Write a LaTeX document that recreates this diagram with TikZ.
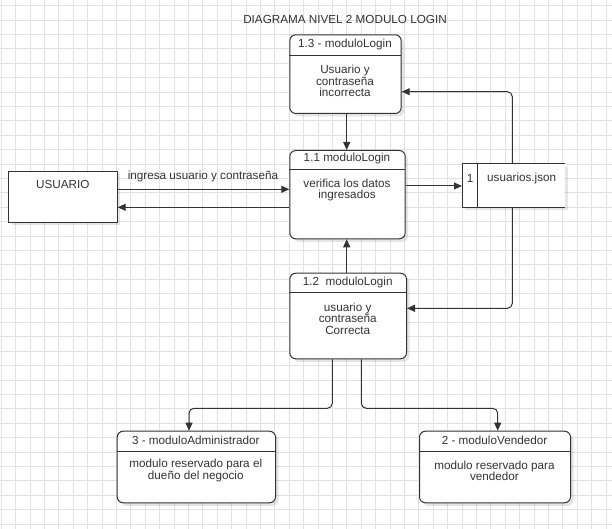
\documentclass[tikz,border=0pt]{standalone}
\usepackage{fontspec}
\setmainfont{Liberation Sans}
\usetikzlibrary{arrows.meta,shadows,calc}
\definecolor{ln}{HTML}{333333}
\definecolor{gridc}{HTML}{E2E2E2}
\begin{document}
\begin{tikzpicture}[x=1pt,y=-1pt,
  font=\fontsize{11.7}{11.7}\selectfont, text=ln,
  shad/.style={drop shadow={shadow xshift=3pt,shadow yshift=-3pt,opacity=0.10,fill=black}},
  box/.style={draw=ln, line width=1pt, rounded corners=6pt, fill=white, anchor=north west, inner sep=0pt, shad},
  ent/.style={draw=ln, line width=1pt, fill=white, anchor=north west, inner sep=0pt, shad},
  txt/.style={inner sep=0pt, align=center, text=ln},
  arr/.style={draw=ln, line width=1pt, -{Triangle[length=8pt,width=7pt]}},
  rc/.style={rounded corners=5pt}
]
\useasboundingbox (0,0) rectangle (612,529);
\fill[white] (0,0) rectangle (612,529);
% grid
\foreach \i in {0,...,42} \draw[gridc, line width=1pt] ({1.3+14.4*\i},0) -- ({1.3+14.4*\i},529);
\foreach \i in {0,...,36} \draw[gridc, line width=1pt] (0,{5.7+14.4*\i}) -- (612,{5.7+14.4*\i});

% title
\node[txt] (title) at (345,19) {DIAGRAMA NIVEL 2 MODULO LOGIN};

% USUARIO
\node[ent, minimum width=108.4pt, minimum height=50.7pt] (usr) at (8.3,171) {};
\node[txt] (usrt) at (62.8,184.3) {USUARIO};

% process 1.3
\node[box, minimum width=111.4pt, minimum height=78.7pt] (p13) at (289.3,34.3) {};
\draw[ln, line width=1pt] (289.3,55.7) -- (400.7,55.7);
\node[txt] (p13h) at (345,44.5) {1.3 - moduloLogin};
\node[txt] (p13b) at (345,81) {Usuario y\\contraseña\\incorrecta};

% process 1.1
\node[box, minimum width=115.4pt, minimum height=88.3pt] (p11) at (289.3,150) {};
\draw[ln, line width=1pt] (289.3,170) -- (404.7,170);
\node[txt] (p11h) at (347,158.5) {1.1 moduloLogin};
\node[txt] (p11b) at (347,190) {verifica los datos\\ingresados};

% process 1.2
\node[box, minimum width=116.7pt, minimum height=85.6pt] (p12) at (289.3,272.7) {};
\draw[ln, line width=1pt] (289.3,292.3) -- (406,292.3);
\node[txt] (p12h) at (347.7,282.3) {1.2\ \ moduloLogin};
\node[txt] (p12b) at (347.7,318.8) {usuario y\\contraseña\\Correcta};

% process 3
\node[box, minimum width=158.3pt, minimum height=71.6pt] (p3) at (116.7,430.7) {};
\draw[ln, line width=1pt] (116.7,451) -- (275,451);
\node[txt] (p3h) at (195.8,440.5) {3 - moduloAdministrador};
\node[txt] (p3b) at (195.8,470.8) {modulo reservado para el\\dueño del negocio};

% process 2
\node[box, minimum width=151pt, minimum height=71.6pt] (p2) at (419,430.7) {};
\draw[ln, line width=1pt] (419,451) -- (570,451);
\node[txt] (p2h) at (494.5,440.5) {2 - moduloVendedor};
\node[txt] (p2b) at (494.5,470.8) {modulo reservado para\\vendedor};

% data store
\node[anchor=north west, inner sep=0pt, fill=white, minimum width=103pt, minimum height=43.3pt, shad] (st) at (462,164) {};
\draw[ln, line width=1pt] (565,164) -- (462,164) -- (462,207.3) -- (565,207.3);
\draw[ln, line width=1pt] (477.7,164) -- (477.7,207.3);
\node[txt] (stn) at (470,178) {1};
\node[txt] (stt) at (521.7,178) {usuarios.json};

% connectors
\draw[arr] (usr.east |- 0,189.3) -- (p11.west |- 0,189.3);
\node[txt] (lbl1) at (203,176) {ingresa usuario y contraseña};
\draw[arr] (p11.west |- 0,207.3) -- (usr.east |- 0,207.3);
\draw[arr] (p13.south -| 346.7,0) -- (p11.north -| 346.7,0);
\draw[arr] (p12.north -| 346.7,0) -- (p11.south -| 346.7,0);
\draw[arr] (p11.east |- 0,186) -- (st.west |- 0,186);
\draw[arr, rc] (st.north -| 512.3,0) -- (512.3,91.7) -- (p13.east |- 0,91.7);
\draw[arr, rc] (st.south -| 512.3,0) -- (512.3,308.3) -- (p12.east |- 0,308.3);
\draw[arr, rc] (p12.south -| 332.3,0) -- (332.3,408.3) -- (189,408.3) -- (p3.north -| 189,0);
\draw[arr, rc] (p12.south -| 361.3,0) -- (361.3,408.3) -- (497.7,408.3) -- (p2.north -| 497.7,0);
\end{tikzpicture}
\end{document}
